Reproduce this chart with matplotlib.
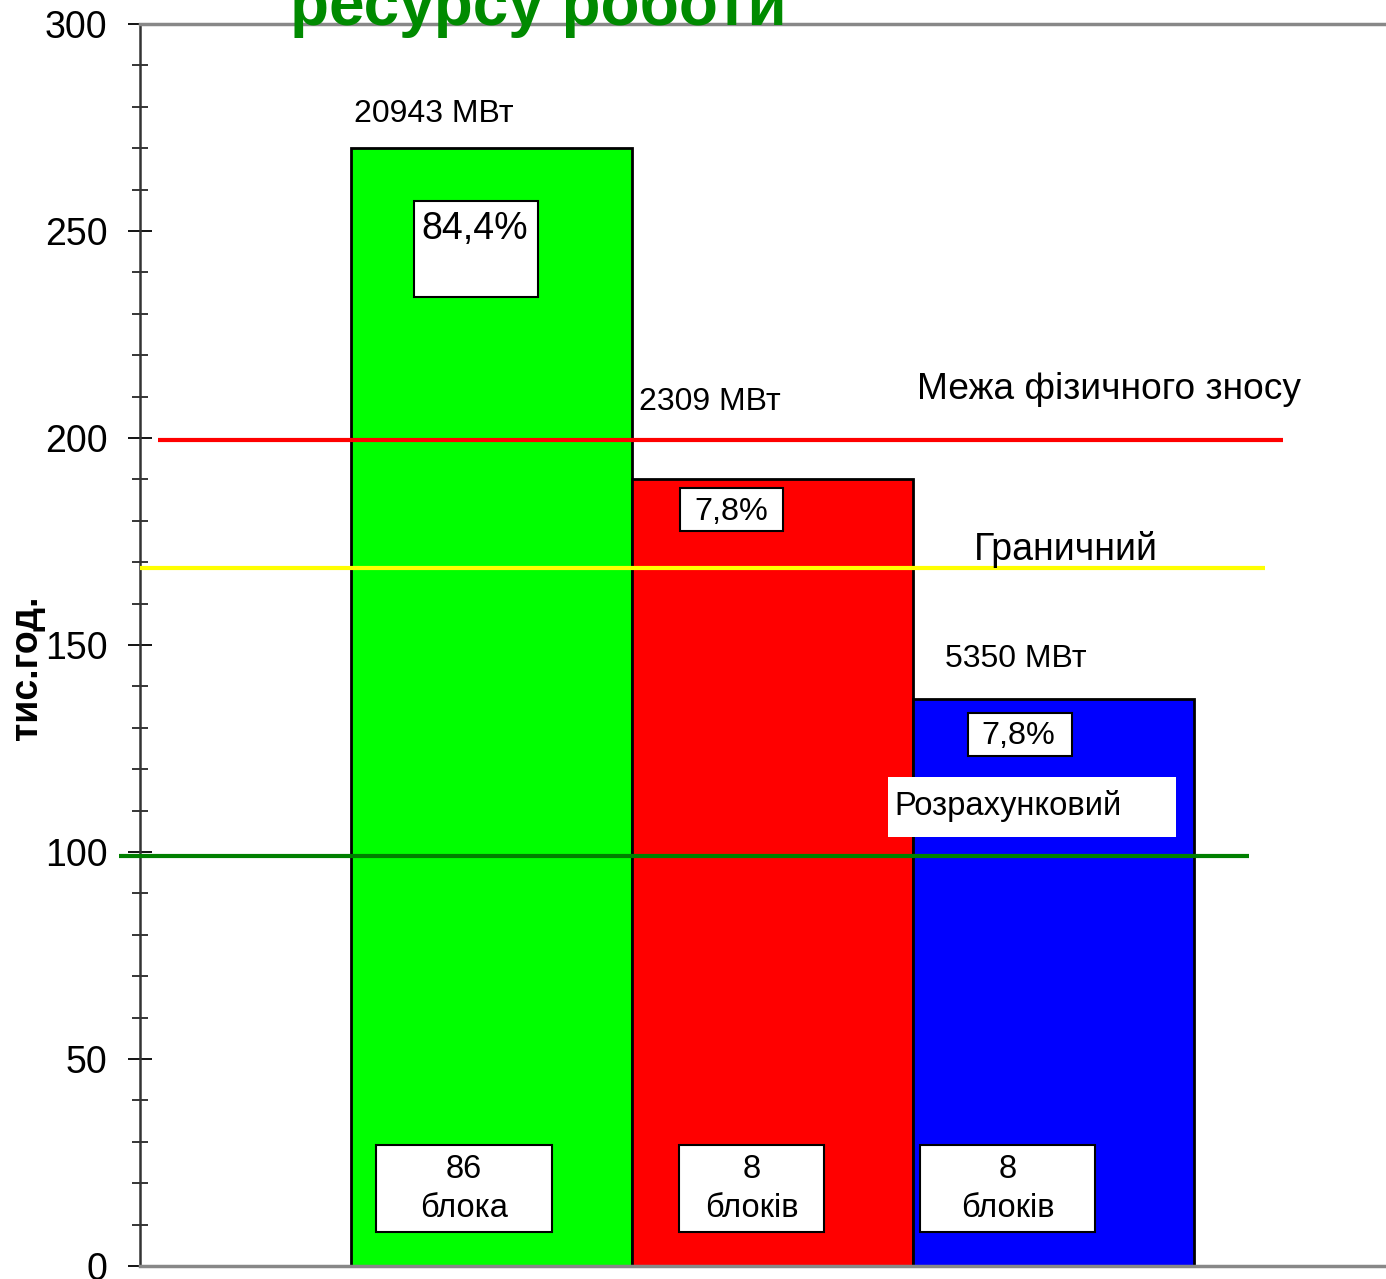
import matplotlib.pyplot as plt
from matplotlib.patches import Rectangle
from matplotlib.ticker import MultipleLocator

plt.rcParams['font.family'] = ['Liberation Sans', 'DejaVu Sans']

# --- data ---
groups = ['86\nблока', '8\nблоків', '8\nблоків']
hours = [270, 190, 137]                 # тис.год.
power = ['20943 МВт', '2309 МВт', '5350 МВт']
shares = ['84,4%', '7,8%', '7,8%']
bar_colors = ['#00ff00', '#ff0000', '#0000ff']

limit_names = ['Межа фізичного зносу', 'Граничний', 'Розрахунковий']
limit_values = [199.5, 168.5, 99]
limit_colors = ['#ff0000', '#ffff00', '#008000']

title = 'ресурсу роботи'
ylabel = 'тис.год.'

# --- figure ---
fig = plt.figure(figsize=(13.86, 12.79), dpi=100)
ax = fig.add_axes([0.10101, 0.010164, 0.94275, 0.97107])

x = list(range(len(hours)))
ax.bar(x, hours, width=1.0, color=bar_colors, edgecolor='black', linewidth=2, zorder=2)

ax.set_xlim(-1.25, 3.4)
ax.set_ylim(0, 300)
ax.set_xticks([])
ax.yaxis.set_major_locator(MultipleLocator(50))
ax.yaxis.set_minor_locator(MultipleLocator(10))
ax.tick_params(axis='y', which='major', direction='inout', length=17, width=1.3,
               labelsize=27, pad=15)
ax.tick_params(axis='y', which='minor', direction='inout', length=11.5, width=1.1)
ax.spines['right'].set_visible(False)
ax.spines['left'].set_color('#333333')
ax.spines['left'].set_linewidth(1.8)
for s in ['top', 'bottom']:
    ax.spines[s].set_color('#888888')
    ax.spines[s].set_linewidth(2.5)

fig.text(27 / 1386, 1 - 668 / 1279, ylabel, fontsize=27, fontweight='bold',
         rotation=90, ha='center', va='center')

# --- limit lines ---
line_spans = [(-1.187, 2.817), (-1.25, 2.753), (-1.326, 2.696)]
for v, c, (x0, x1) in zip(limit_values, limit_colors, line_spans):
    ax.plot([x0, x1], [v, v], color=c, linewidth=3, zorder=5, clip_on=False,
            solid_capstyle='butt')

# limit labels
ax.text(1.514, 211.7, limit_names[0], fontsize=26.7, ha='left', va='center', zorder=6)
ax.text(1.717, 173.1, limit_names[1], fontsize=27, ha='left', va='center', zorder=6)
ax.add_patch(Rectangle((1.411, 103.6), 1.025, 14.5, facecolor='white',
                       edgecolor='none', zorder=4))
ax.text(1.436, 111.2, limit_names[2], fontsize=23.6, ha='left', va='center', zorder=6)

# --- power labels above bars ---
power_pos = [(-0.489, 278.3), (0.525, 208.6), (1.614, 146.7)]
for (px, py), t in zip(power_pos, power):
    ax.text(px, py, t, fontsize=23, ha='left', va='center', zorder=3,
            bbox=dict(facecolor='white', edgecolor='none', pad=2))

# --- share boxes ---
share_boxes = [(-0.2758, 234.1, 0.4413, 23.1), (0.6708, 177.5, 0.3666, 10.4),
               (1.6957, 123.2, 0.3701, 10.4)]
share_text = [(-0.0587, 250.6, 27), (0.854, 182.2, 23.3), (1.877, 127.9, 23.3)]
for (bx, by, bw, bh), (tx, ty, fs), t in zip(share_boxes, share_text, shares):
    ax.add_patch(Rectangle((bx, by), bw, bh, facecolor='white', edgecolor='black',
                           linewidth=1.5, zorder=3))
    ax.text(tx, ty, t, fontsize=fs, ha='center', va='center', zorder=4)

# --- unit count boxes ---
unit_boxes = [(-0.411, 0.6263), (0.6673, 0.516), (1.5249, 0.6228)]
unit_text_x = [-0.0979, 0.927, 1.8381]
for (bx, bw), tx, t in zip(unit_boxes, unit_text_x, groups):
    ax.add_patch(Rectangle((bx, 8.2), bw, 21.0, facecolor='white', edgecolor='black',
                           linewidth=1.5, zorder=3))
    ax.text(tx, 18.6, t, fontsize=23.5, ha='center', va='center', linespacing=1.35,
            zorder=4)

# --- title (cut at top, as in the slide) ---
fig.text(538 / 1386, 1 - 25 / 1279, title, fontsize=46, fontweight='bold',
         color='#008a00', ha='center', va='baseline')

fig.savefig('out.png', dpi=100)
